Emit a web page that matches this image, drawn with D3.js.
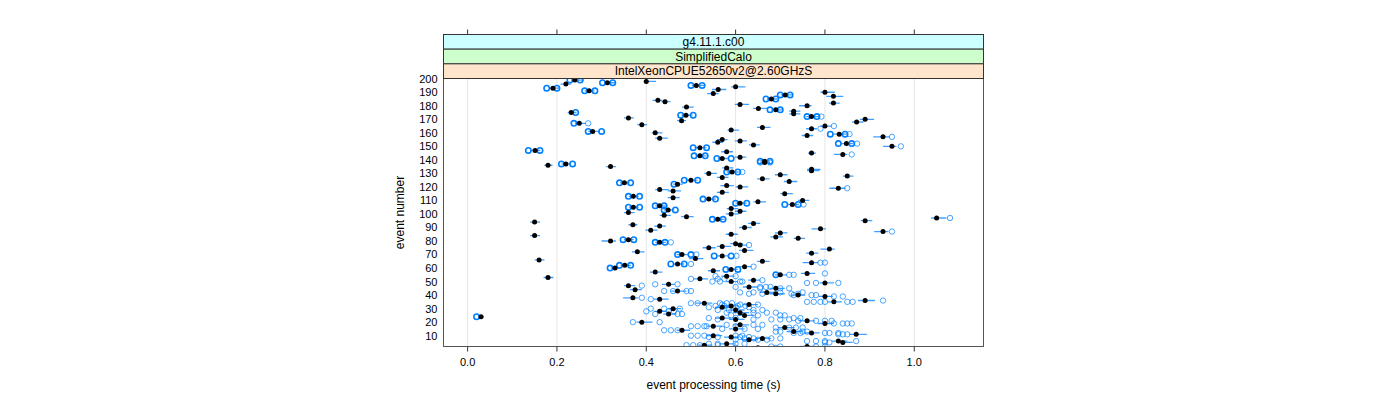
<!DOCTYPE html>
<html><head><meta charset="utf-8">
<script src="https://cdn.jsdelivr.net/npm/d3@7"></script>
<style>body{margin:0;background:#fff}svg{display:block}text{font-family:"Liberation Sans",Arial,Helvetica,sans-serif}</style>
</head><body><svg id="c" width="1400" height="400"></svg>
<script>
const stripLabels = ["g4.11.1.c00","SimplifiedCalo","IntelXeonCPUE52650v2@2.60GHzS"];
const stripColors = ["#ccffff","#ccffcc","#ffe5cc"];
const xTicks = [0.0,0.2,0.4,0.6,0.8,1.0];
const yTicks = [10,20,30,40,50,60,70,80,90,100,110,120,130,140,150,160,170,180,190,200];
const xTitle = "event processing time (s)";
const yTitle = "event number";

const events = [
199,198,197,196,195,194,193,192,191,190,
189,188,187,185,184,183,182,181,180,179,
178,177,176,175,174,173,172,171,170,169,
168,167,166,165,164,163,162,161,160,159,
158,157,156,155,154,153,152,151,150,149,
147,146,145,144,143,142,141,139,138,137,
136,135,134,133,132,131,130,129,128,127,
126,125,124,123,122,121,120,119,118,117,
116,115,113,112,111,110,109,108,107,106,
105,104,103,102,101,100,99,98,97,96,
95,94,93,92,91,90,89,88,87,86,
85,84,83,82,81,80,79,78,77,76,
75,74,73,72,71,70,69,67,66,65,
64,63,62,61,60,59,58,57,56,55,
54,53,52,51,50,49,48,47,46,45,
44,43,42,41,40,39,38,37,36,35,
34,33,32,31,30,29,28,27,26,25,
24,23,22,21,20,19,18,17,16,15,
14,13,12,11,10,9,8,7,6,5,
4,3,2,1];

const means = [
.240,.400,.313,.220,.512,.600,.191,.561,.272,.800,
.550,.711,.819,.680,.426,.442,.819,.610,.760,.490,
.651,.690,.730,.232,.730,.489,.770,.360,.890,.479,
.871,.250,.390,.800,.660,.770,.590,.280,.420,.832,
.760,.930,.430,.570,.610,.560,.848,.640,.950,.520,
.151,.580,.770,.840,.520,.610,.570,.665,.665,.220,
.180,.320,.580,.770,.770,.592,.540,.700,.850,.570,
.660,.500,.720,.351,.470,.580,.610,.830,.430,.460,
.570,.710,.371,.460,.540,.750,.650,.610,.727,.430,
.371,.590,.449,.610,.360,.590,.440,.490,1.050,.560,
.890,.150,.640,.370,.430,.620,.790,.410,.930,.700,
.590,.150,.690,.740,.360,.320,.430,.600,.610,.570,
.540,.810,.620,.380,.770,.480,.570,.510,.160,.660,
.770,.470,.352,.620,.330,.590,.550,.420,.760,.700,
.580,.180,.520,.640,.590,.800,.450,.360,.630,.690,
.375,.470,.670,.690,.740,.800,.370,.430,.890,.820,
.530,.630,.590,.570,.460,.600,.430,.610,.450,.620,
.030,.570,.600,.760,.390,.800,.610,.550,.710,.600,
.480,.730,.770,.870,.550,.590,.660,.630,.830,.840,
.580,.530,.760,.650];

const errMinus = [
.008,.006,.008,.012,.010,.010,.008,.014,.010,.010,
.014,.010,.016,.010,.012,.008,.010,.012,.018,.010,
.012,.010,.010,.008,.010,.010,.012,.010,.012,.010,
.010,.010,.010,.010,.012,.012,.008,.010,.008,.012,
.012,.022,.010,.012,.012,.012,.012,.010,.020,.012,
.010,.012,.008,.020,.010,.012,.010,.010,.010,.010,
.008,.010,.010,.010,.010,.012,.010,.012,.010,.012,
.012,.012,.012,.010,.010,.014,.010,.020,.010,.012,
.012,.010,.010,.012,.010,.010,.010,.010,.012,.010,
.010,.010,.010,.012,.010,.012,.010,.012,.012,.010,
.010,.010,.012,.010,.012,.012,.020,.012,.020,.012,
.012,.010,.012,.010,.010,.020,.010,.012,.012,.012,
.014,.020,.012,.012,.012,.012,.012,.014,.010,.012,
.020,.010,.010,.012,.010,.010,.012,.012,.014,.012,
.012,.010,.015,.012,.012,.012,.015,.010,.014,.014,
.012,.014,.016,.014,.016,.014,.022,.014,.016,.014,
.020,.014,.015,.016,.012,.016,.012,.016,.012,.016,
.004,.016,.015,.018,.012,.016,.016,.015,.016,.015,
.012,.016,.016,.016,.015,.016,.015,.016,.014,.012,
.016,.015,.016,.016];

const errPlus = [
.020,.022,.018,.012,.018,.022,.015,.018,.012,.022,
.012,.015,.022,.014,.010,.012,.014,.020,.010,.016,
.020,.015,.015,.012,.015,.015,.018,.012,.020,.010,
.015,.015,.012,.015,.018,.012,.018,.015,.016,.016,
.014,.015,.018,.012,.015,.012,.016,.014,.010,.015,
.012,.014,.010,.010,.015,.014,.015,.012,.012,.012,
.010,.012,.015,.020,.018,.015,.018,.016,.014,.014,
.016,.015,.018,.012,.012,.016,.018,.016,.020,.018,
.015,.018,.012,.015,.016,.015,.018,.015,.015,.014,
.012,.016,.014,.014,.014,.018,.015,.016,.022,.015,
.016,.012,.015,.010,.014,.016,.012,.015,.012,.016,
.015,.012,.016,.015,.012,.012,.014,.016,.016,.020,
.015,.012,.020,.016,.015,.015,.014,.018,.012,.016,
.015,.015,.014,.016,.012,.015,.015,.016,.018,.015,
.018,.012,.018,.016,.016,.020,.014,.015,.018,.020,
.015,.020,.018,.020,.016,.018,.012,.020,.022,.018,
.018,.020,.018,.020,.018,.020,.016,.020,.018,.020,
.006,.020,.020,.018,.024,.020,.020,.020,.022,.020,
.018,.020,.018,.024,.020,.018,.020,.020,.020,.022,
.020,.018,.018,.020];

const runs = [
[.229,.229,.252,.252],[],[.302,.302,.325,.325],[],[.500,.500,.525,.525],[],[.177,.177,.200,.200],[],[.262,.262,.285,.285],[],
[],[.700,.700,.722,.722],[],[.668,.668,.690,.690],[],[],[],[],[],[],
[],[.677,.677,.700,.700],[],[.242,.242],[],[.477,.477,.505,.505],[.760,.760,.782,.782,.792],[],[],[],
[],[.238,.238,.270],[],[.820],[],[.790],[],[.270,.270,.300,.300],[],[.812,.812,.845,.845,.855],
[],[.950],[],[],[],[],[.830,.830,.860,.860,.872],[],[.970],[.505,.505,.535,.535],
[.136,.136,.162,.162],[],[],[.860],[.507,.507,.532,.532],[],[.558,.558,.590,.590],[.655,.655,.677,.677],[.655,.677],[.210,.210,.235,.235],
[],[],[],[],[],[.580,.580,.605,.605,.615],[],[],[],[],
[],[.485,.485,.515,.515],[],[.340,.340,.365,.365],[.462,.462],[],[],[.850],[],[],
[],[],[.360,.360,.385,.385],[],[.527,.527,.555,.555],[],[],[.600,.600,.625,.625],[.710,.710,.740,.740,.752],[.420,.420,.440,.440],
[.360,.360,.385,.385],[],[.440,.440,.465,.465],[],[],[],[],[],[1.080],[.548,.548,.572,.572],
[],[],[],[],[],[],[],[],[.950],[],
[],[],[],[],[.348,.348,.372,.372],[],[.420,.420,.442,.442,.455],[],[.630],[],
[],[],[],[],[],[.470,.470,.500,.500,.512],[.552,.552,.590,.590,.602],[],[],[],
[.790,.800],[.455,.455,.485,.485,.500],[.340,.340,.365,.365],[.640],[.319,.319],[.578,.578,.605,.605],[],[],[.800],[.690,.690,.720,.730],
[.555,.600],[],[.500,.560,.575],[.660],[.548,.565,.610,.615],[.760,.780,.830],[.420,.470],[.390],[.600,.655,.668,.678],[.655,.700,.720],
[],[.440,.460,.490,.500],[.610,.640,.700,.750],[.630,.660,.725,.740],[.730,.770,.780],[.820,.840],[.390],[.410],[.930],[.760,.775,.790,.800,.850,.862],
[.500,.515,.565,.580,.592],[.570,.610,.650],[.555,.575,.605,.622],[.540,.600,.630],[.410,.440,.475],[.560,.585,.640,.660],[.400,.450,.462],[.580,.640,.670,.690],[.420,.470,.480],[.590,.650,.700,.710],
[.020,.020,.020],[.540,.600,.730,.745],[.560,.640,.680,.700,.720],[.740,.780,.800,.815],[.370,.430],[.820,.840,.850,.860],[.580,.640,.660],[.500,.515,.530,.535,.600],[.690,.720,.735,.750],[.570,.620,.650],
[.440,.455,.470],[.690,.700,.750,.760],[.730,.745,.800,.810,.830],[.830,.840,.850],[.500,.515,.530,.600,.615],[.540,.560,.610,.630],[.620,.640,.680,.700],[.600,.650,.670],[.760,.780,.800,.870],[.800,.810],
[.540,.560,.600,.620],[.490,.505,.520,.560],[.680,.700,.780,.800],[.600,.690]];

// ---- layout ----
const L = 443.5, R = 983.5, T = 78.5, B = 346.5;
const stripTop = 34.5, stripH = (T - stripTop) / 3;
const svg = d3.select("#c");
const x = d3.scaleLinear().domain([-0.054, 1.155]).range([L, R]);
const y = d3.scaleLinear().domain([0, 200]).range([349.2, 78.7]);

svg.append("defs").append("clipPath").attr("id","pc")
  .append("rect").attr("x",L).attr("y",T).attr("width",R-L).attr("height",B-T);

// grid
svg.append("g").selectAll("line").data(xTicks).join("line")
  .attr("x1",d=>x(d)).attr("x2",d=>x(d)).attr("y1",T).attr("y2",B)
  .attr("stroke","#e6e6e6").attr("stroke-width",1);

const plot = svg.append("g").attr("clip-path","url(#pc)");

// circles (runs), grouped by identical values
const circ = [];
events.forEach((e,i)=>{
  const m = d3.rollup(runs[i], v=>v.length, v=>v);
  m.forEach((n,v)=>circ.push({e, v, n}));
});
plot.append("g").selectAll("circle").data(circ).join("circle")
  .attr("cx",d=>x(d.v)).attr("cy",d=>y(d.e)).attr("r",2.7)
  .attr("fill","none").attr("stroke","#0080ff")
  .attr("stroke-width",d=>d.n>1?1.6:1)
  .attr("stroke-opacity",d=>d.n>1?1:0.7);

// error segments
const idx = d3.range(events.length);
plot.append("g").selectAll("line").data(idx).join("line")
  .attr("x1",i=>x(means[i]-errMinus[i])).attr("x2",i=>x(means[i]+errPlus[i]))
  .attr("y1",i=>y(events[i])).attr("y2",i=>y(events[i]))
  .attr("stroke","#0080ff").attr("stroke-width",1.3).attr("stroke-opacity",0.75);

// means
plot.append("g").selectAll("circle").data(idx).join("circle")
  .attr("cx",i=>x(means[i])).attr("cy",i=>y(events[i])).attr("r",2.5)
  .attr("fill","#000");

// panel border
svg.append("rect").attr("x",L).attr("y",T).attr("width",R-L).attr("height",B-T)
  .attr("fill","none").attr("stroke","#555").attr("stroke-width",1);

// strips
stripLabels.forEach((s,k)=>{
  const yy = stripTop + k*stripH;
  svg.append("rect").attr("x",L).attr("y",yy).attr("width",R-L).attr("height",stripH)
    .attr("fill",stripColors[k]).attr("stroke","#333").attr("stroke-width",1);
  svg.append("text").attr("x",(L+R)/2).attr("y",yy+stripH/2).attr("dy","0.36em")
    .attr("text-anchor","middle").attr("font-size",12).attr("fill","#000").text(s);
});

// bottom axis
const xb = svg.append("g");
xb.selectAll("line").data(xTicks).join("line")
  .attr("x1",d=>x(d)).attr("x2",d=>x(d)).attr("y1",B).attr("y2",B+5)
  .attr("stroke","#333");
xb.selectAll("text").data(xTicks).join("text")
  .attr("x",d=>x(d)).attr("y",366).attr("text-anchor","middle")
  .attr("font-size",11).text(d3.format(".1f"));
// top ticks
svg.append("g").selectAll("line").data(xTicks).join("line")
  .attr("x1",d=>x(d)).attr("x2",d=>x(d)).attr("y1",stripTop-5).attr("y2",stripTop)
  .attr("stroke","#333");

// left axis labels
svg.append("g").selectAll("text").data(yTicks).join("text")
  .attr("x",437.5).attr("y",d=>y(d)).attr("dy","0.36em").attr("text-anchor","end")
  .attr("font-size",11).text(d=>d);

// titles
svg.append("text").attr("x",(L+R)/2).attr("y",389).attr("text-anchor","middle")
  .attr("font-size",12).text(xTitle);
svg.append("text").attr("transform",`translate(404,${(T+B)/2}) rotate(-90)`)
  .attr("text-anchor","middle").attr("font-size",12).text(yTitle);
</script></body></html>
